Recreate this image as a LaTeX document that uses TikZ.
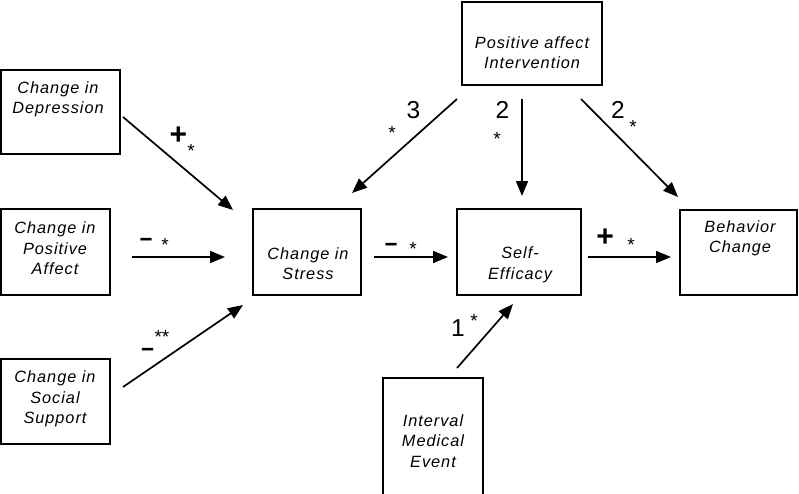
\documentclass[tikz,border=0pt]{standalone}
\usepackage{fontspec}
\setmainfont{Liberation Sans}
\usetikzlibrary{arrows.meta}
\begin{document}
\begin{tikzpicture}[x=1pt,y=-1pt,
  box/.style={draw,line width=1.8pt,inner sep=0pt},
  lbl/.style={font=\fontsize{16.3}{20.5}\selectfont\itshape\addfontfeature{LetterSpace=6},align=center,inner sep=0pt},
  arr/.style={line width=1.7pt,-{Triangle[length=15pt,width=12pt]}},
  sgn/.style={font=\fontsize{30}{30}\selectfont\bfseries,inner sep=0pt},
  dsh/.style={font=\fontsize{22}{22}\selectfont\bfseries\addfontfeature{FakeBold=1.5},inner sep=0pt},
  num/.style={font=\fontsize{24.5}{24.5}\selectfont,inner sep=0pt},
  st/.style={font=\fontsize{19}{19}\selectfont,inner sep=0pt}]
\useasboundingbox (0,0) rectangle (799,493);
\clip (0,0) rectangle (799,493);
% boxes
\node[box,minimum width=119pt,minimum height=84pt] (dep) at (60.5,112) {};
\node[box,minimum width=109pt,minimum height=86pt] (pa) at (55.5,252) {};
\node[box,minimum width=109pt,minimum height=85pt] (ss) at (55.5,401.5) {};
\node[box,minimum width=108pt,minimum height=86pt] (stress) at (307,252) {};
\node[box,minimum width=124pt,minimum height=86pt] (se) at (519,252) {};
\node[box,minimum width=117pt,minimum height=85pt] (bc) at (738.5,252.5) {};
\node[box,minimum width=140pt,minimum height=83pt] (pai) at (532,43.5) {};
\node[box,minimum width=100pt,minimum height=130pt] (ime) at (433,443) {};
% texts
\node[lbl] (tdep) at (58,99.5) {Change in\\Depression};
\node[lbl] (tpa) at (55,248.5) {Change in\\Positive\\Affect};
\node[lbl] (tss) at (55,399) {Change in\\Social\\Support};
\node[lbl] (tstress) at (308,263.5) {Change in\\Stress};
\node[lbl] (tse) at (520,265) {Self-\\Efficacy};
\node[lbl] (tbc) at (740,238.5) {Behavior\\Change};
\node[lbl] (tpai) at (532,52.5) {Positive affect\\Intervention};
\node[lbl] (time) at (433,441) {Interval\\Medical\\Event};
% connector ends
\coordinate (c1s) at (123,117); \coordinate (c1e) at (233,210);
\coordinate (c2s) at (132,257); \coordinate (c2e) at (225,257);
\coordinate (c3s) at (123,387); \coordinate (c3e) at (243,305);
\coordinate (c4s) at (374,257); \coordinate (c4e) at (448,257);
\coordinate (c5s) at (457,99);  \coordinate (c5e) at (352,193);
\coordinate (c6s) at (522,99);  \coordinate (c6e) at (522,196);
\coordinate (c7s) at (581,99);  \coordinate (c7e) at (678,197);
\coordinate (c8s) at (588,257); \coordinate (c8e) at (671,257);
\coordinate (c9s) at (457,368); \coordinate (c9e) at (513,304);
\draw[arr] (c1s) -- (c1e);
\draw[arr] (c2s) -- (c2e);
\draw[arr] (c3s) -- (c3e);
\draw[arr] (c4s) -- (c4e);
\draw[arr] (c5s) -- (c5e);
\draw[arr] (c6s) -- (c6e);
\draw[arr] (c7s) -- (c7e);
\draw[arr] (c8s) -- (c8e);
\draw[arr] (c9s) -- (c9e);
% labels
\node[sgn] (l1) at (178.5,136) {+};
\node[st] (l1s) at (191,151.3) {*};
\node[dsh] (l2) at (146,241.5) {–};
\node[st] (l2s) at (165,245.3) {*};
\node[dsh] (l3) at (147.5,351.5) {–};
\node[st] (l3s) at (162,337.3) {**};
\node[dsh] (l4) at (391,246.5) {–};
\node[st] (l4s) at (413,249.3) {*};
\node[num] (l5) at (413.5,110.5) {3};
\node[st] (l5s) at (392,133.3) {*};
\node[num] (l6) at (502.5,109.5) {2};
\node[st] (l6s) at (497,139.3) {*};
\node[num] (l7) at (618,109.5) {2};
\node[st] (l7s) at (633,127.3) {*};
\node[sgn] (l8) at (605,238) {+};
\node[st] (l8s) at (631,245.3) {*};
\node[num] (l9) at (458,328.5) {1};
\node[st] (l9s) at (474,321.3) {*};
\end{tikzpicture}
\end{document}
